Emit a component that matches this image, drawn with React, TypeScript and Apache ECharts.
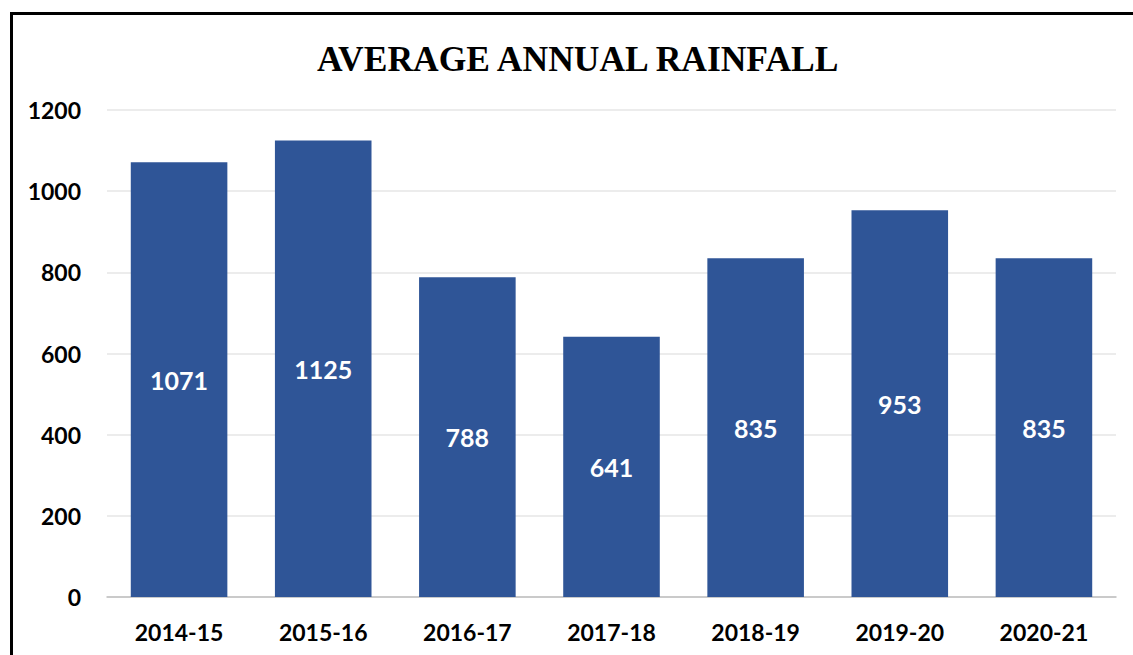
import React, { useEffect, useRef } from "react";
import * as echarts from "echarts";

const categories = ["2014-15", "2015-16", "2016-17", "2017-18", "2018-19", "2019-20", "2020-21"];
const rainfall = [1071, 1125, 788, 641, 835, 953, 835];
const titleText = "AVERAGE ANNUAL RAINFALL";

export default function App() {
  const ref = useRef<HTMLDivElement>(null);
  useEffect(() => {
    document.body.style.margin = "0";
    document.body.style.overflow = "hidden";
    const chart = echarts.init(ref.current!, null, { renderer: "svg" });
    chart.setOption({
      animation: false,
      backgroundColor: "#ffffff",
      title: {
        text: titleText,
        left: 312,
        top: 36,
        textStyle: {
          fontFamily: "Liberation Serif",
          fontWeight: "bold",
          fontSize: 35.5,
          color: "#000000",
        },
      },
      graphic: [
        { type: "line", shape: { x1: 11.5, y1: 12, x2: 11.5, y2: 660 }, style: { stroke: "#000", lineWidth: 3 } },
        { type: "line", shape: { x1: 10, y1: 13.5, x2: 1140, y2: 13.5 }, style: { stroke: "#000", lineWidth: 3 } },
      ],
      grid: { left: 107, right: 17, top: 110, bottom: 58 },
      xAxis: {
        type: "category",
        data: categories,
        axisLine: { lineStyle: { color: "#bfbfbf", width: 1.5 } },
        axisTick: { show: false },
        axisLabel: {
          color: "#000",
          fontFamily: "Lato",
          fontWeight: "bold",
          fontSize: 23,
          margin: 23,
        },
      },
      yAxis: {
        type: "value",
        min: 0,
        max: 1200,
        interval: 200,
        axisLine: { show: false },
        axisTick: { show: false },
        splitLine: { lineStyle: { color: "#e6e6e6", width: 1.5 } },
        axisLabel: {
          color: "#000",
          fontFamily: "Lato",
          fontWeight: "bold",
          fontSize: 23,
          margin: 26,
          formatter: (v: number) => String(v),
        },
      },
      series: [
        {
          type: "bar",
          data: rainfall,
          barCategoryGap: "33%",
          itemStyle: { color: "#2f5597" },
          label: {
            show: true,
            position: "inside",
            color: "#ffffff",
            fontFamily: "Lato",
            fontWeight: "bold",
            fontSize: 25,
          },
        },
      ],
    });
    return () => chart.dispose();
  }, []);
  return (
    <div
      ref={ref}
      style={{ position: "fixed", left: 0, top: 0, width: 1133, height: 655 }}
    />
  );
}
